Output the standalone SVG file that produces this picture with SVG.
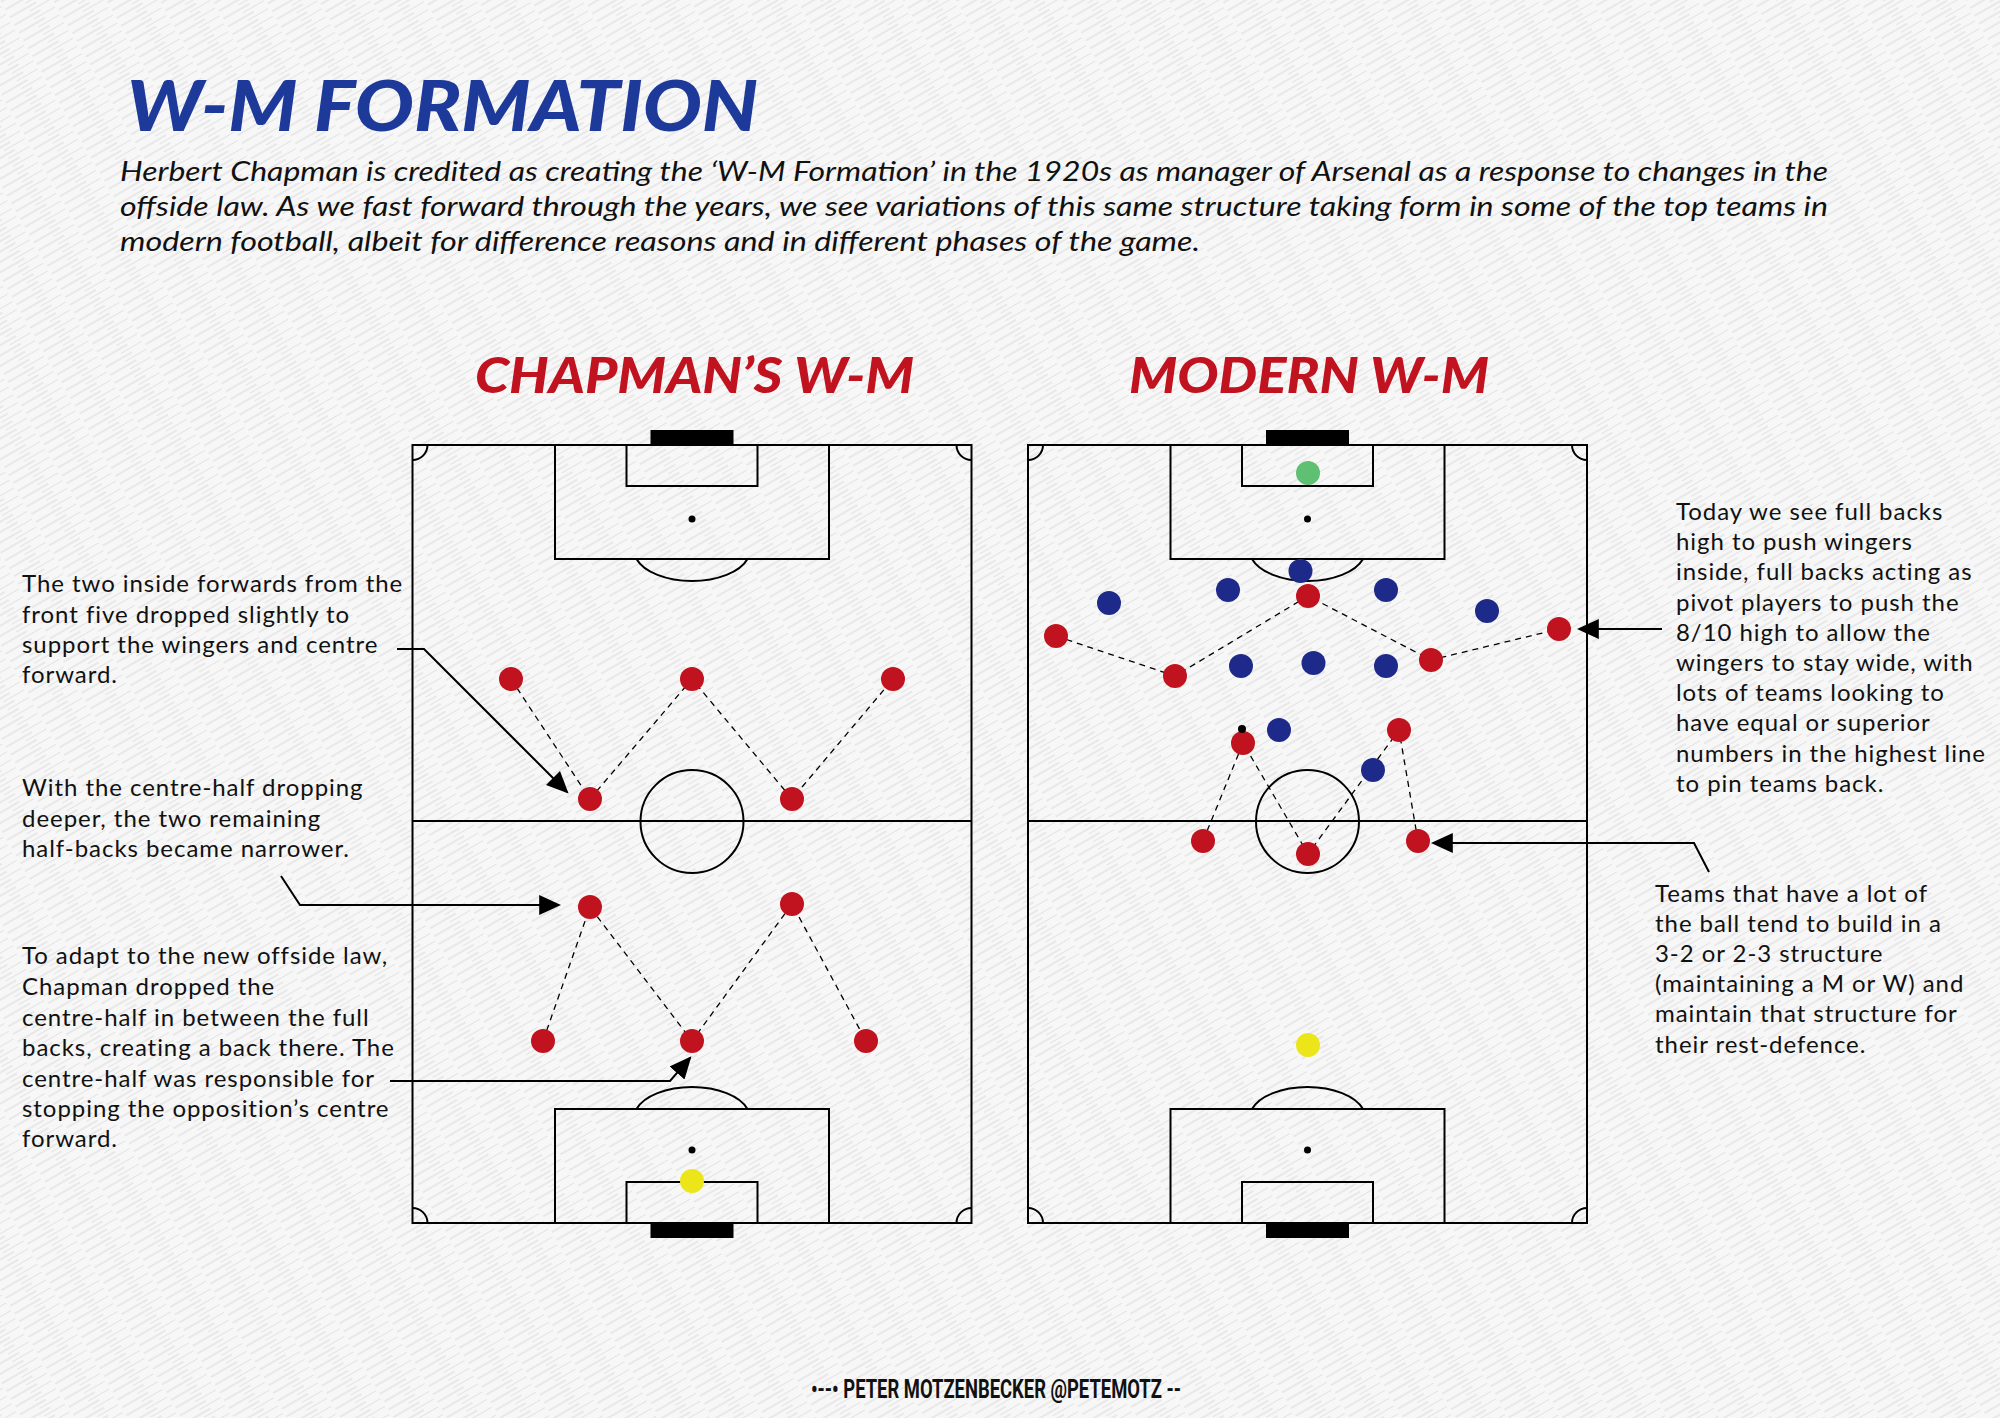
<svg xmlns="http://www.w3.org/2000/svg" width="2000" height="1418" viewBox="0 0 2000 1418">
<defs>
<pattern id="tex" width="46" height="9" patternUnits="userSpaceOnUse" patternTransform="rotate(-30)">
<rect width="46" height="9" fill="#f7f7f7"/>
<line x1="0" y1="2" x2="30" y2="2" stroke="#d9d9d9" stroke-width="1"/>
<line x1="20" y1="6.5" x2="44" y2="6.5" stroke="#e3e3e3" stroke-width="1"/>
</pattern>
<marker id="ah2" viewBox="0 0 10 10" refX="9" refY="5" markerWidth="22" markerHeight="22" markerUnits="userSpaceOnUse" orient="auto">
<path d="M0,0.5 L10,5 L0,9.5 Z" fill="#000"/>
</marker>
<g id="pitch">
<rect x="0" y="0" width="559" height="778" fill="none" stroke="#000" stroke-width="2"/>
<rect x="238" y="-15" width="83" height="15" fill="#000"/>
<rect x="238" y="778" width="83" height="15" fill="#000"/>
<rect x="142.5" y="0" width="274" height="114" fill="none" stroke="#000" stroke-width="2"/>
<rect x="214" y="0" width="131" height="41" fill="none" stroke="#000" stroke-width="2"/>
<rect x="142.5" y="664" width="274" height="114" fill="none" stroke="#000" stroke-width="2"/>
<rect x="214" y="737" width="131" height="41" fill="none" stroke="#000" stroke-width="2"/>
<circle cx="279.5" cy="74" r="3.5" fill="#000"/>
<circle cx="279.5" cy="705" r="3.5" fill="#000"/>
<path d="M224 114 A58 31 0 0 0 335 114" fill="none" stroke="#000" stroke-width="2"/>
<path d="M224 664 A58 31 0 0 1 335 664" fill="none" stroke="#000" stroke-width="2"/>
<line x1="0" y1="376" x2="559" y2="376" stroke="#000" stroke-width="2"/>
<circle cx="279.5" cy="376.5" r="51.5" fill="none" stroke="#000" stroke-width="2"/>
<path d="M0 15 A15 15 0 0 0 15 0 M544 0 A15 15 0 0 0 559 15 M0 763 A15 15 0 0 1 15 778 M544 778 A15 15 0 0 1 559 763" fill="none" stroke="#000" stroke-width="2"/>
</g>
</defs>
<style>
.dash{stroke:#000;stroke-width:1.3;stroke-dasharray:6 5;fill:none}
.red{fill:#c1121f}
.blue{fill:#1e2a8a}
.note{font-family:Lato,"Liberation Sans",sans-serif;font-size:24px;letter-spacing:0.95px;fill:#111}
.arr{stroke:#000;stroke-width:2;fill:none}
.sec{font-family:Lato,"Liberation Sans",sans-serif;font-weight:900;font-style:italic;font-size:50px;fill:#c1121f}
</style>
<rect width="2000" height="1418" fill="url(#tex)"/>

<g id="header">
<text x="127" y="131" font-family="Lato, 'Liberation Sans', sans-serif" font-weight="900" font-style="italic" font-size="71" fill="#1d3a9a" textLength="631" lengthAdjust="spacingAndGlyphs">W-M FORMATION</text>
<g font-family="Lato, 'Liberation Sans', sans-serif" font-style="italic" font-size="27" fill="#111">
<text x="120" y="181" textLength="1708" lengthAdjust="spacingAndGlyphs">Herbert Chapman is credited as creating the ‘W-M Formation’ in the 1920s as manager of Arsenal as a response to changes in the</text>
<text x="120" y="216" textLength="1708" lengthAdjust="spacingAndGlyphs">offside law. As we fast forward through the years, we see variations of this same structure taking form in some of the top teams in</text>
<text x="120" y="251" textLength="1080" lengthAdjust="spacingAndGlyphs">modern football, albeit for difference reasons and in different phases of the game.</text>
</g>
</g>

<g id="title-chapman"><text class="sec" x="475" y="393" textLength="439" lengthAdjust="spacingAndGlyphs">CHAPMAN’S W-M</text></g>
<g id="title-modern"><text class="sec" x="1129" y="393" textLength="360" lengthAdjust="spacingAndGlyphs">MODERN W-M</text></g>

<g id="pitch-left"><use href="#pitch" x="412.5" y="445"/></g>
<g id="pitch-right"><use href="#pitch" x="1028" y="445"/></g>

<g id="connectors">
<polyline class="dash" points="511,679 590,799 692,679 792,799 893,679"/>
<polyline class="dash" points="543,1041 590,907 692,1041 792,904 866,1041"/>
<polyline class="dash" points="1056,636 1175,676 1308,596 1431,660 1559,629"/>
<polyline class="dash" points="1203,841 1243,743 1308,854 1399,730 1418,841"/>
<polyline class="arr" points="397,649 424,649 567,792" marker-end="url(#ah2)"/>
<polyline class="arr" points="281,876 300,905 559,905" marker-end="url(#ah2)"/>
<polyline class="arr" points="390,1081 670,1081 690,1058" marker-end="url(#ah2)"/>
<polyline class="arr" points="1662,629 1579,629" marker-end="url(#ah2)"/>
<polyline class="arr" points="1709,872 1694,843 1433,843" marker-end="url(#ah2)"/>
</g>

<g id="players-left">
<circle class="red" cx="511" cy="679" r="12"/>
<circle class="red" cx="692" cy="679" r="12"/>
<circle class="red" cx="893" cy="679" r="12"/>
<circle class="red" cx="590" cy="799" r="12"/>
<circle class="red" cx="792" cy="799" r="12"/>
<circle class="red" cx="590" cy="907" r="12"/>
<circle class="red" cx="792" cy="904" r="12"/>
<circle class="red" cx="543" cy="1041" r="12"/>
<circle class="red" cx="692" cy="1041" r="12"/>
<circle class="red" cx="866" cy="1041" r="12"/>
<circle cx="692" cy="1181" r="12" fill="#ece51a"/>
</g>

<g id="players-right">
<circle cx="1308" cy="473" r="12" fill="#5fbf72"/>
<circle class="blue" cx="1300.5" cy="571" r="12"/>
<circle class="blue" cx="1228" cy="590" r="12"/>
<circle class="blue" cx="1109" cy="603" r="12"/>
<circle class="blue" cx="1386" cy="590" r="12"/>
<circle class="blue" cx="1487" cy="611" r="12"/>
<circle class="red" cx="1308" cy="596" r="12"/>
<circle class="red" cx="1559" cy="629" r="12"/>
<circle class="red" cx="1056" cy="636" r="12"/>
<circle class="red" cx="1175" cy="676" r="12"/>
<circle class="blue" cx="1241" cy="666" r="12"/>
<circle class="blue" cx="1313.5" cy="663" r="12"/>
<circle class="blue" cx="1386" cy="666" r="12"/>
<circle class="red" cx="1431" cy="660" r="12"/>
<circle class="red" cx="1243" cy="743" r="12"/>
<circle cx="1242" cy="729" r="4" fill="#000"/>
<circle class="blue" cx="1279" cy="730" r="12"/>
<circle class="red" cx="1399" cy="730" r="12"/>
<circle class="blue" cx="1373" cy="770" r="12"/>
<circle class="red" cx="1203" cy="841" r="12"/>
<circle class="red" cx="1308" cy="854" r="12"/>
<circle class="red" cx="1418" cy="841" r="12"/>
<circle cx="1308" cy="1045" r="12" fill="#ece51a"/>
</g>

<g id="note-forwards" class="note">
<text x="22" y="592">The two inside forwards from the</text>
<text x="22" y="623">front five dropped slightly to</text>
<text x="22" y="653">support the wingers and centre</text>
<text x="22" y="683">forward.</text>
</g>
<g id="note-halfbacks" class="note">
<text x="22" y="796">With the centre-half dropping</text>
<text x="22" y="827">deeper, the two remaining</text>
<text x="22" y="857">half-backs became narrower.</text>
</g>
<g id="note-offside" class="note">
<text x="22" y="964">To adapt to the new offside law,</text>
<text x="22" y="995">Chapman dropped the</text>
<text x="22" y="1026">centre-half in between the full</text>
<text x="22" y="1056">backs, creating a back there. The</text>
<text x="22" y="1087">centre-half was responsible for</text>
<text x="22" y="1117">stopping the opposition’s centre</text>
<text x="22" y="1147">forward.</text>
</g>
<g id="note-fullbacks" class="note">
<text x="1676" y="520">Today we see full backs</text>
<text x="1676" y="550">high to push wingers</text>
<text x="1676" y="580">inside, full backs acting as</text>
<text x="1676" y="611">pivot players to push the</text>
<text x="1676" y="641">8/10 high to allow the</text>
<text x="1676" y="671">wingers to stay wide, with</text>
<text x="1676" y="701">lots of teams looking to</text>
<text x="1676" y="731">have equal or superior</text>
<text x="1676" y="762">numbers in the highest line</text>
<text x="1676" y="792">to pin teams back.</text>
</g>
<g id="note-build" class="note">
<text x="1655" y="902">Teams that have a lot of</text>
<text x="1655" y="932">the ball tend to build in a</text>
<text x="1655" y="962">3-2 or 2-3 structure</text>
<text x="1655" y="992">(maintaining a M or W) and</text>
<text x="1655" y="1022">maintain that structure for</text>
<text x="1655" y="1053">their rest-defence.</text>
</g>

<g id="footer">
<text x="811" y="1398" font-family="Roboto, 'Liberation Sans', sans-serif" font-weight="700" font-size="25" fill="#111" textLength="370" lengthAdjust="spacingAndGlyphs">•--• PETER MOTZENBECKER @PETEMOTZ --</text>
</g>
</svg>
